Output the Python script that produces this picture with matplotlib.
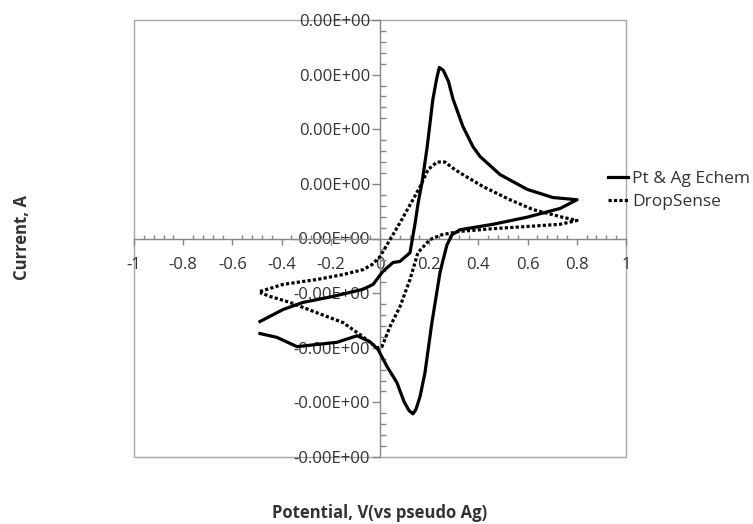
import numpy as np
import matplotlib
matplotlib.use('Agg')
import matplotlib.pyplot as plt
from matplotlib.patches import Rectangle
from matplotlib.ticker import MultipleLocator, FixedLocator

plt.rcParams['font.family'] = ['Open Sans', 'DejaVu Sans']

# potential (V) and current (in units of one major y tick)
pt_ag_v = [-0.488, -0.394, -0.313, -0.191, -0.069, -0.028, 0.012, 0.053, 0.081,
           0.122, 0.142, 0.155, 0.171, 0.191, 0.215, 0.231, 0.241, 0.257, 0.278,
           0.297, 0.337, 0.378, 0.407, 0.488, 0.598, 0.703, 0.801,
           0.732, 0.598, 0.459, 0.325, 0.293, 0.272, 0.256, 0.244, 0.211, 0.183,
           0.163, 0.146, 0.134, 0.118, 0.098, 0.069, 0.028, -0.008, -0.041,
           -0.093, -0.175, -0.256, -0.337, -0.419, -0.488]
pt_ag_i = [-1.52, -1.30, -1.17, -1.06, -0.93, -0.84, -0.60, -0.44, -0.42,
           -0.26, 0.26, 0.65, 1.03, 1.65, 2.55, 2.94, 3.13, 3.08, 2.88,
           2.55, 2.05, 1.68, 1.50, 1.17, 0.90, 0.75, 0.71,
           0.55, 0.39, 0.26, 0.16, 0.07, -0.12, -0.40, -0.62, -1.54, -2.45,
           -2.89, -3.13, -3.21, -3.15, -2.99, -2.64, -2.34, -2.03, -1.89,
           -1.78, -1.90, -1.94, -1.98, -1.81, -1.74]

drop_v = [-0.488, -0.394, -0.256, -0.150, -0.069, -0.033, 0.0, 0.049, 0.089,
          0.130, 0.163, 0.195, 0.232, 0.264, 0.305, 0.337, 0.419, 0.528, 0.622,
          0.732, 0.801,
          0.732, 0.598, 0.459, 0.325, 0.252, 0.203, 0.154, 0.122, 0.081, 0.041,
          0.008, -0.012, -0.081, -0.150, -0.256, -0.366, -0.447, -0.488]
drop_i = [-0.97, -0.84, -0.75, -0.66, -0.57, -0.48, -0.33, 0.04, 0.35,
          0.68, 0.95, 1.26, 1.40, 1.40, 1.26, 1.17, 0.95, 0.71, 0.53,
          0.40, 0.33,
          0.26, 0.22, 0.18, 0.13, 0.07, -0.02, -0.26, -0.75, -1.25, -1.61,
          -1.98, -2.00, -1.76, -1.54, -1.36, -1.17, -1.06, -0.99]

series_labels = ['Pt & Ag Echem', 'DropSense']

x_ticks = [-1, -0.8, -0.6, -0.4, -0.2, 0, 0.2, 0.4, 0.6, 0.8, 1]
x_tick_labels = ['-1', '-0.8', '-0.6', '-0.4', '-0.2', '0', '0.2', '0.4', '0.6', '0.8', '1']
y_ticks = [-4, -3, -2, -1, 0, 1, 2, 3, 4]
y_tick_labels = ['-0.00E+00'] * 5 + ['0.00E+00'] * 4

axis_grey = '#868686'
text_col = '#333333'

fig = plt.figure(figsize=(7.53, 5.24), dpi=100)
ax = fig.add_axes([134 / 753, 67 / 524, 492 / 753, 437 / 524])

ax.plot(pt_ag_v, pt_ag_i, color='black', lw=2.3, zorder=4,
        solid_joinstyle='round', label=series_labels[0])
ax.plot(drop_v, drop_i, color='black', lw=2.3, zorder=4,
        linestyle=(0, (1, 0.7)), dash_capstyle='butt', label=series_labels[1])

ax.set_xlim(-1, 1)
ax.set_ylim(-4, 4)

# excel style: axes cross at zero, plot area framed
for side in ['top', 'right']:
    ax.spines[side].set_visible(False)
ax.spines['left'].set_position(('data', 0))
ax.spines['bottom'].set_position(('data', 0))
for side in ['left', 'bottom']:
    ax.spines[side].set_color(axis_grey)
    ax.spines[side].set_linewidth(1.0)
ax.add_patch(Rectangle((0, 0), 1, 1, transform=ax.transAxes, fill=False,
                       ec='#a6a6a6', lw=1.0, clip_on=False, zorder=1))

ax.xaxis.set_major_locator(FixedLocator(x_ticks))
ax.set_xticklabels(x_tick_labels)
ax.xaxis.set_minor_locator(MultipleLocator(0.04))
ax.yaxis.set_major_locator(FixedLocator(y_ticks))
ax.set_yticklabels(y_tick_labels)
ax.yaxis.set_minor_locator(MultipleLocator(0.2))

ax.tick_params(axis='x', which='major', direction='out', length=4.5, width=1,
               color=axis_grey, labelsize=12, labelcolor=text_col, pad=9)
ax.tick_params(axis='x', which='minor', direction='in', length=3, width=1,
               color=axis_grey)
ax.tick_params(axis='y', which='major', direction='out', length=6, width=1,
               color=axis_grey, labelsize=12, labelcolor=text_col, pad=1)
ax.tick_params(axis='y', which='minor', direction='in', length=4, width=1,
               color=axis_grey)

leg = ax.legend(loc='center left', bbox_to_anchor=(608 / 753, 1 - 190.5 / 524),
                bbox_transform=fig.transFigure, frameon=False, fontsize=12.5,
                handlelength=1.15, handletextpad=0.25, borderpad=0,
                borderaxespad=0, labelspacing=0.42)
for t in leg.get_texts():
    t.set_color(text_col)

fig.text(22 / 753, 1 - 237 / 524, 'Current, A', rotation=90, ha='center',
         va='center', fontsize=12, fontweight='bold', color=text_col)
fig.text(380 / 753, 1 - 513 / 524, 'Potential, V(vs pseudo Ag)', ha='center',
         va='center', fontsize=12, fontweight='bold', color=text_col)

fig.savefig('out.png', dpi=100)
